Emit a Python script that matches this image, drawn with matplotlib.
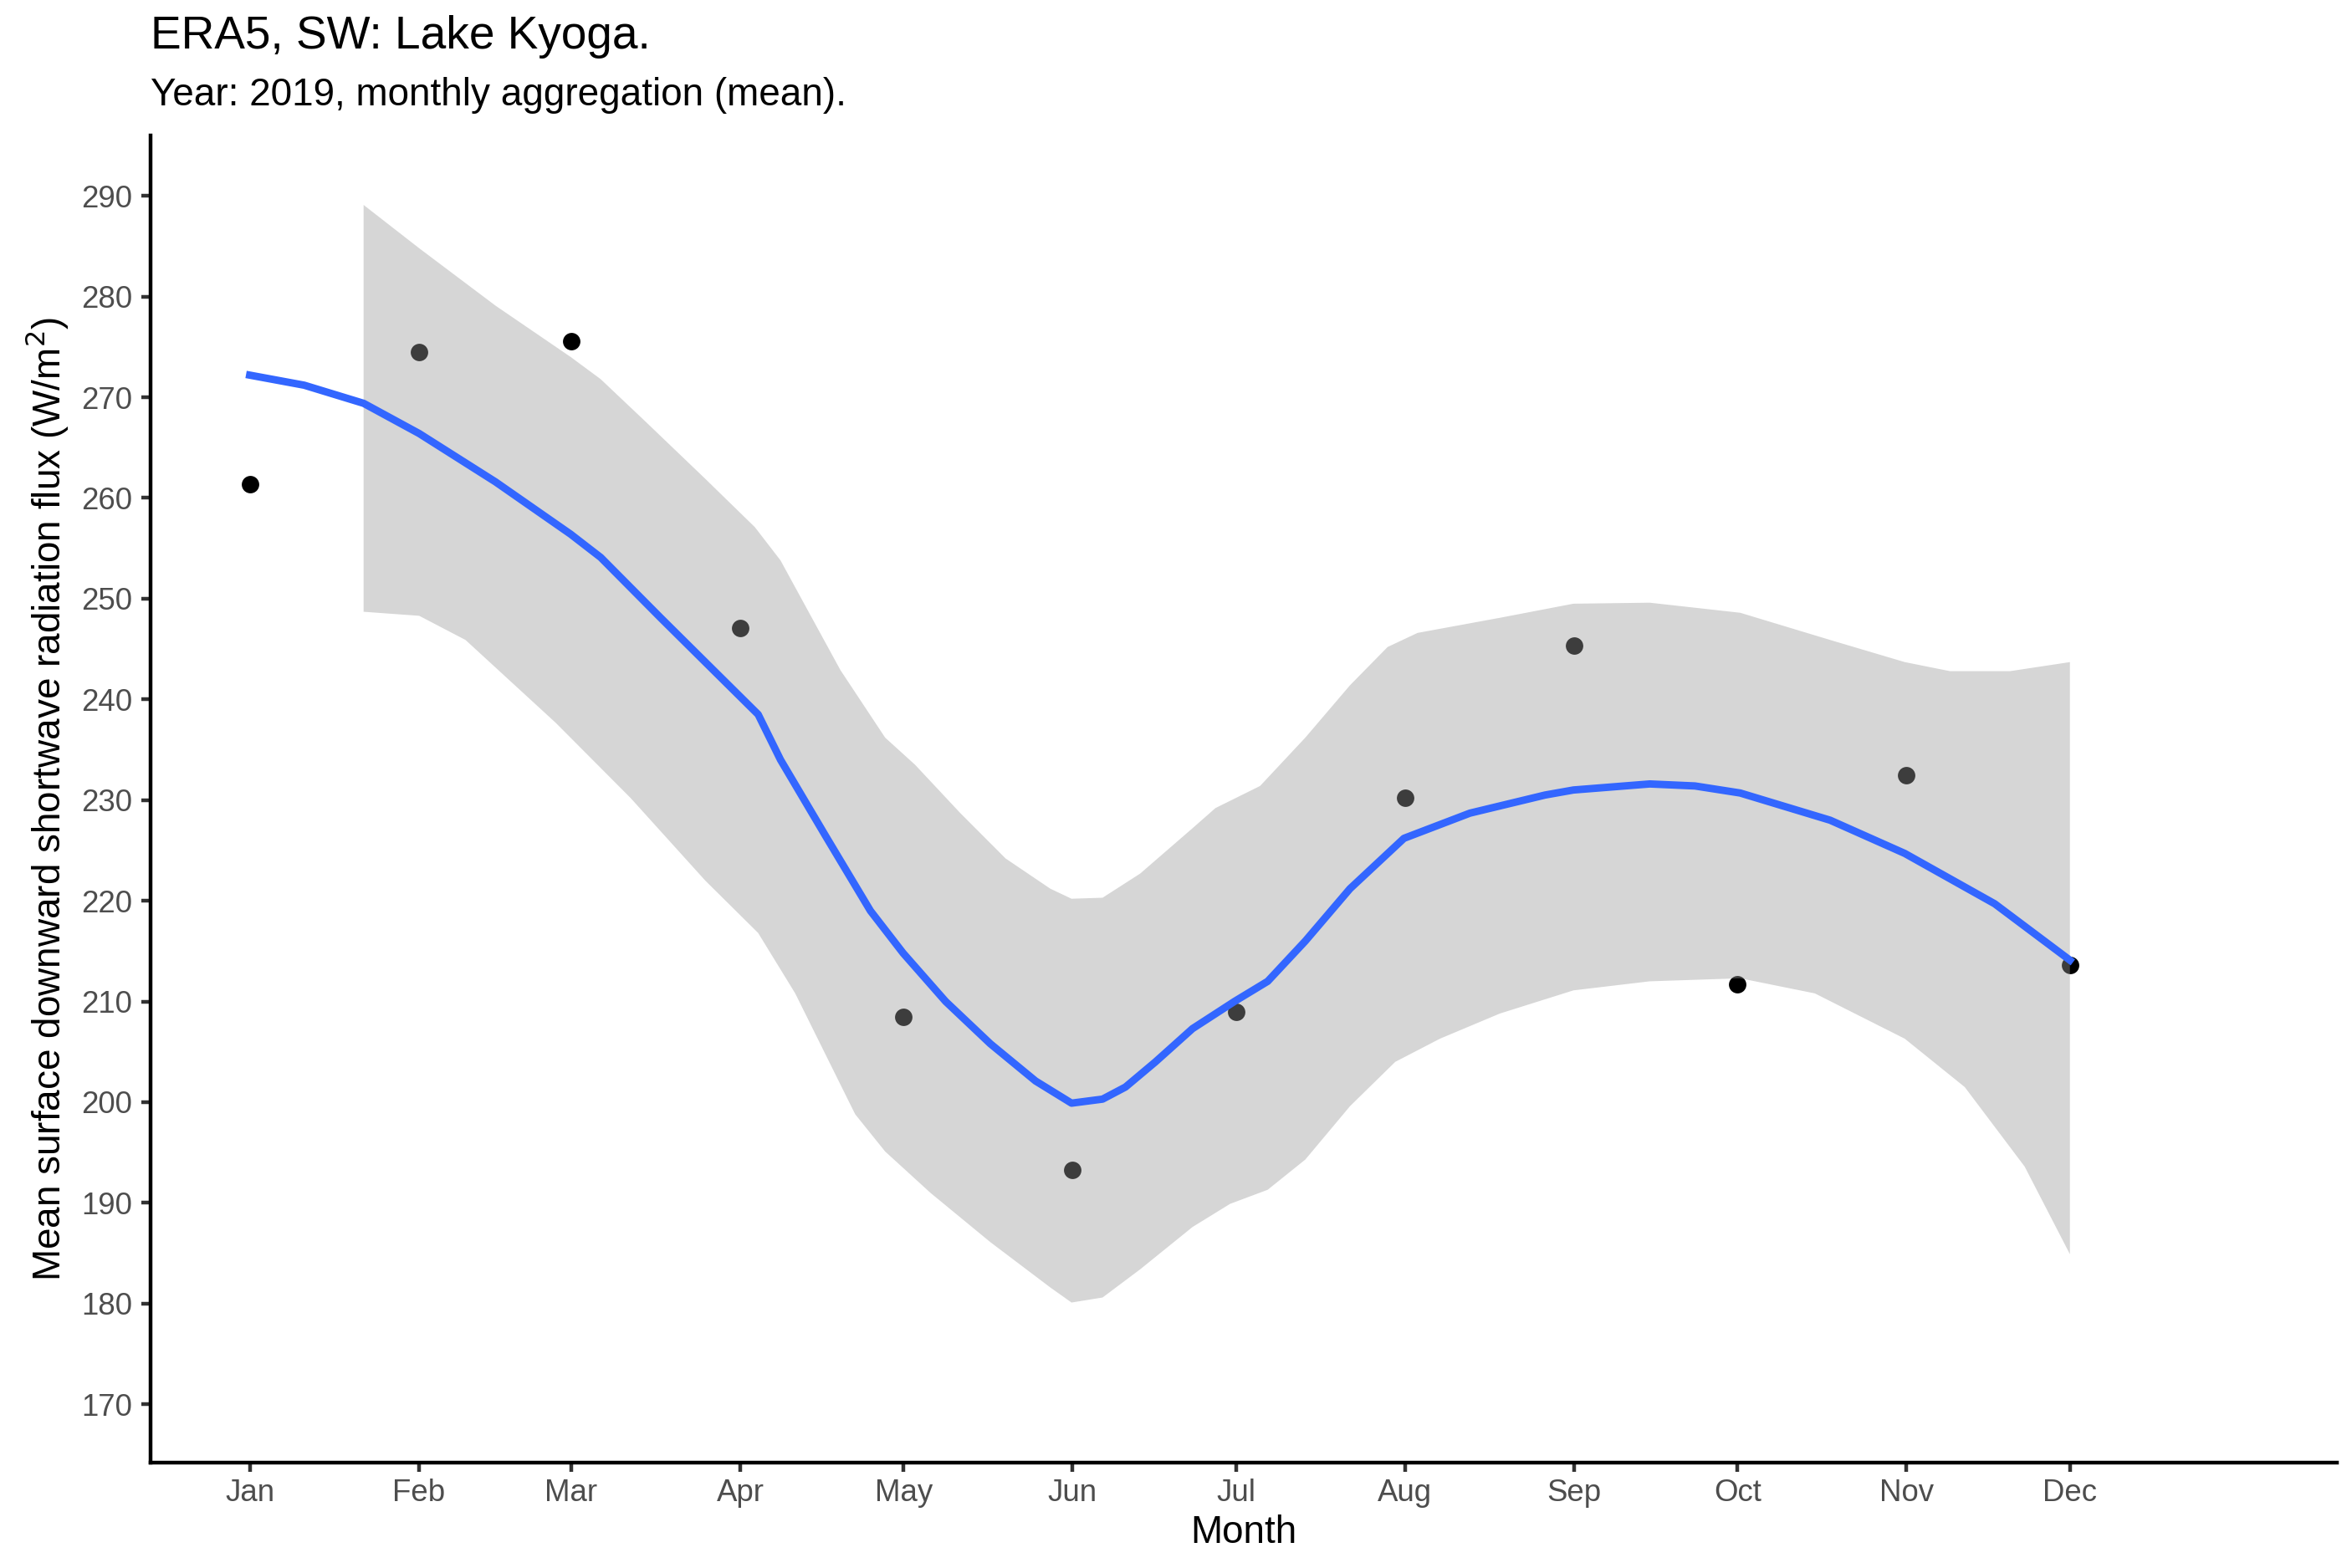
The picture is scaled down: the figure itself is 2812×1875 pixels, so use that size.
import numpy as np
import matplotlib
matplotlib.use("Agg")
import matplotlib.pyplot as plt

plt.rcParams["font.family"] = ["Liberation Sans", "DejaVu Sans"]

# monthly means (x = day offset from 1 Jan 2019)
month_labels = ["Jan", "Feb", "Mar", "Apr", "May", "Jun",
                "Jul", "Aug", "Sep", "Oct", "Nov", "Dec"]
month_days = [0, 31, 59, 90, 120, 151, 181, 212, 243, 273, 304, 334]
sw_flux = [261.4, 274.5, 275.6, 247.1, 208.5, 193.3,
           209.0, 230.2, 245.3, 211.7, 232.5, 213.6]

# loess fit
fit_days = [0, 10.0, 20.9, 31.1, 45.1, 58.9, 64.4, 75.4, 83.6, 93.3, 97.4,
            105.6, 113.9, 119.9, 127.7, 135.9, 144.2, 150.8, 156.5, 160.7,
            166.2, 173.0, 180.7, 186.8, 193.7, 201.9, 211.8, 223.9, 237.7,
            242.9, 256.9, 265.2, 273.5, 290.0, 303.7, 320.2, 334.0]
fit_vals = [272.2, 271.2, 269.4, 266.4, 261.6, 256.4, 254.1, 248.1, 243.7,
            238.5, 234.0, 226.5, 219.0, 214.8, 210.0, 205.8, 202.1, 199.9,
            200.3, 201.5, 204.0, 207.3, 210.0, 212.0, 216.0, 221.2, 226.2,
            228.7, 230.5, 231.0, 231.6, 231.4, 230.7, 228.0, 224.7, 219.7,
            214.1]

# confidence band
upper_days = [20.9, 31.1, 45.1, 58.9, 64.4, 72.6, 83.6, 92.7, 97.4, 108.4,
              116.6, 122.1, 130.4, 138.7, 146.9, 150.8, 156.5, 163.4, 173.0,
              177.2, 185.4, 193.7, 201.9, 208.8, 214.3, 229.4, 242.9, 256.9,
              273.5, 290.0, 303.7, 312.0, 323.0, 334.0]
upper_vals = [289.1, 284.8, 279.1, 274.0, 271.8, 267.6, 261.9, 257.1, 253.8,
              242.9, 236.2, 233.5, 228.7, 224.2, 221.2, 220.2, 220.3, 222.7,
              227.2, 229.2, 231.4, 236.2, 241.4, 245.2, 246.6, 248.1, 249.5,
              249.6, 248.6, 245.9, 243.7, 242.8, 242.8, 243.7]
lower_days = [20.9, 31.1, 39.6, 56.1, 69.9, 83.6, 93.3, 100.1, 111.1, 116.6,
              124.9, 135.9, 146.9, 150.8, 156.5, 163.4, 173.0, 179.9, 186.8,
              193.7, 201.9, 210.2, 218.4, 229.4, 242.9, 256.9, 273.5, 287.2,
              303.7, 314.7, 325.7, 334.0]
lower_vals = [248.7, 248.3, 245.9, 237.7, 230.2, 222.0, 216.8, 210.8, 198.8,
              195.1, 191.0, 186.1, 181.6, 180.1, 180.6, 183.4, 187.6, 189.9,
              191.3, 194.3, 199.6, 204.0, 206.3, 208.8, 211.1, 212.0, 212.3,
              210.8, 206.3, 201.5, 193.6, 184.9]

fig = plt.figure(figsize=(2812 / 300, 1875 / 300), dpi=300)
ax = fig.add_axes([0.064, 0.0672, 0.9296, 0.8464])

# points first, ribbon drawn over them (greys the covered ones)
ax.plot(month_days, sw_flux, "o", color="black", markersize=5.0,
        markeredgewidth=0, zorder=2)
band_x = np.r_[upper_days, lower_days[::-1]]
band_y = np.r_[upper_vals, lower_vals[::-1]]
ax.fill(band_x, band_y, color="#999999", alpha=0.4, linewidth=0, zorder=3)
ax.plot(fit_days, fit_vals, color="#3366FF", linewidth=2.13, zorder=4,
        solid_joinstyle="round")

ax.set_xlim(-18.2, 383.0)
ax.set_ylim(164.2, 296.0)
ax.set_xticks(month_days)
ax.set_xticklabels(month_labels)
ax.set_yticks(range(170, 291, 10))

for side in ["top", "right"]:
    ax.spines[side].set_visible(False)
for side in ["left", "bottom"]:
    ax.spines[side].set_linewidth(1.07)
    ax.spines[side].set_color("black")
ax.tick_params(length=2.75, width=1.07, color="#333333",
               labelsize=8.8, labelcolor="#4D4D4D")
ax.tick_params(axis="x", pad=1.8)
ax.tick_params(axis="y", pad=2.5)

ax.set_xlabel("Month", fontsize=11, labelpad=2)
ax.set_ylabel("Mean surface downward shortwave radiation flux (W/m$^2$)",
              fontsize=11, labelpad=3)

fig.text(0.064, 0.969, "ERA5, SW: Lake Kyoga.", fontsize=13.2,
         ha="left", va="baseline")
fig.text(0.064, 0.933, "Year: 2019, monthly aggregation (mean).", fontsize=11,
         ha="left", va="baseline")

fig.savefig("out.png", dpi=300)
